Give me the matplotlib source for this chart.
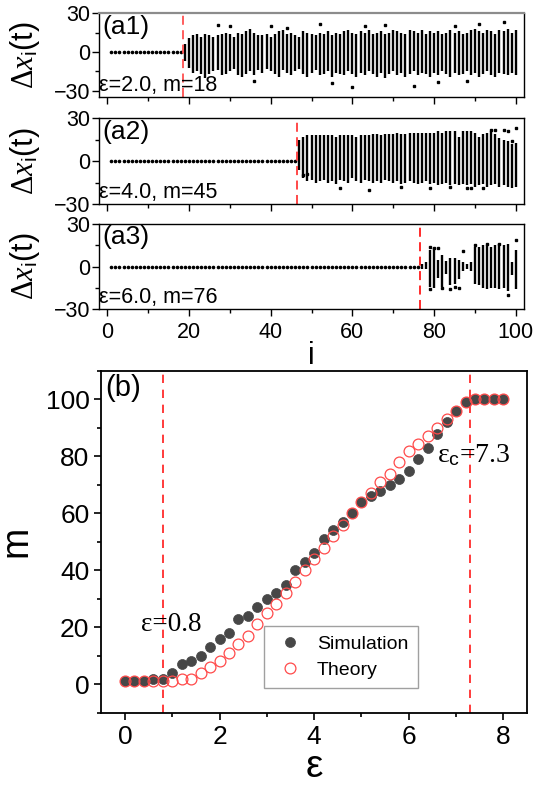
import numpy as np
import matplotlib
matplotlib.use("Agg")
import matplotlib.pyplot as plt
from matplotlib.ticker import MultipleLocator

plt.rcParams['font.family'] = ['Liberation Sans', 'DejaVu Sans']
plt.rcParams['mathtext.fontset'] = 'custom'
plt.rcParams['mathtext.rm'] = 'Liberation Serif'
plt.rcParams['mathtext.it'] = 'Liberation Serif:italic'
plt.rcParams['mathtext.sf'] = 'Liberation Sans'

# ---------------- data: panels (a1)-(a3) ----------------
eps_labels = ["ε=2.0, m=18", "ε=4.0, m=45", "ε=6.0, m=76"]
panel_tags = ["(a1)", "(a2)", "(a3)"]
sync_end = [18, 46, 76]            # last synchronized node drawn on the zero line
border_line = [18.5, 46.5, 76.5]   # red dashed boundary

a1_hi = [6, 11, 13, 14, 12, 14, 13, 12, 13, 14,
         15, 14, 12, 15, 14, 16, 18, 15, 13, 13,
         14, 12, 14, 16, 17, 14, 15, 13, 12, 16,
         15, 14, 13, 15, 14, 16, 13, 15, 14, 16,
         17, 15, 14, 16, 15, 17, 14, 15, 16, 14,
         15, 17, 16, 15, 14, 17, 16, 15, 17, 14,
         16, 15, 16, 14, 15, 17, 15, 16, 14, 15,
         17, 18, 16, 15, 17, 16, 14, 17, 16, 18,
         15, 17]
a1_lo = [-7, -12, -16, -15, -17, -20, -17, -15, -14, -18,
         -17, -15, -13, -18, -19, -17, -15, -18, -14, -16,
         -13, -15, -17, -19, -14, -16, -18, -15, -13, -17,
         -19, -16, -14, -18, -17, -15, -19, -16, -17, -18,
         -15, -17, -19, -16, -18, -15, -17, -19, -16, -20,
         -17, -15, -18, -16, -19, -17, -15, -18, -16, -17,
         -19, -16, -18, -15, -17, -19, -16, -18, -17, -15,
         -18, -16, -19, -17, -15, -18, -19, -16, -17, -18,
         -16, -18]
a1_out_i = [27, 30, 44, 52, 60, 68, 75, 85, 91, 97, 55, 81, 63, 88, 36, 40]
a1_out_v = [21, 20, 19, 22, -27, 21, -26, 20, 22, 23, -24, -23, 20, -22, -22, 20]

a2_hi = [15, 17, 18, 18, 18, 18, 18, 18, 18, 17,
         18, 18, 18, 18, 17, 18, 18, 18, 19, 19,
         18, 19, 19, 19, 20, 19, 19, 20, 20, 20,
         20, 20, 20, 20, 21, 20, 21, 21, 21, 17,
         21, 21, 21, 20, 17, 19, 20, 21, 19, 16,
         15, 14, 12, 13]
a2_lo = [-6, -12, -14, -13, -15, -14, -13, -15, -14, -16,
         -13, -14, -15, -12, -14, -15, -13, -14, -15, -14,
         -15, -13, -14, -15, -14, -16, -15, -14, -15, -16,
         -15, -14, -16, -15, -17, -16, -15, -17, -16, -17,
         -16, -17, -16, -18, -17, -16, -18, -17, -16, -18,
         -17, -18, -19, -18]
a2_out_i = [48, 49, 64, 72, 79, 84, 89, 92, 94, 97, 98, 100, 57, 88, 95, 99]
a2_out_v = [-10, -9, -20, -18, -19, -18, -19, -19, 22, 22, 21, 23, -19, -19, 22, 14]

a3_hi = [2, 3, 12, 13, 5, 8, 4, 6, 6, 5, 3, 2, 3, 14, 14, 15, 15, 14, 15, 16, 15, 16, 3, 12]
a3_lo = [-2, -2, -14, -15, -8, -14, -5, -13, -12, -9, -3, -2, -3, -12, -13, -15, -16, -15, -15, -16, -15, -17, -6, -16]
a3_out_i = [79, 80, 81, 82, 84, 85, 86, 87, 90, 93, 96, 98, 100, 79]
a3_out_v = [14, 13, 13, -15, -16, -14, -15, 11, 15, 16, 16, -20, 19, -16]

panel_hi = [a1_hi, a2_hi, a3_hi]
panel_lo = [a1_lo, a2_lo, a3_lo]
panel_out_i = [a1_out_i, a2_out_i, a3_out_i]
panel_out_v = [a1_out_v, a2_out_v, a3_out_v]
panel_ylim = [(-35, 30), (-30, 30), (-30, 30)]

# ---------------- data: panel (b) ----------------
eps = [0.0, 0.2, 0.4, 0.6, 0.8, 1.0, 1.2, 1.4, 1.6, 1.8,
       2.0, 2.2, 2.4, 2.6, 2.8, 3.0, 3.2, 3.4, 3.6, 3.8,
       4.0, 4.2, 4.4, 4.6, 4.8, 5.0, 5.2, 5.4, 5.6, 5.8,
       6.0, 6.2, 6.4, 6.6, 6.8, 7.0, 7.2, 7.4, 7.6, 7.8, 8.0]
m_sim = [1, 1, 1, 2, 2, 4, 7, 8, 10, 13,
         16, 18, 23, 24, 27, 30, 32, 35, 40, 43,
         46, 51, 54, 57, 60, 64, 66, 68, 70, 72,
         75, 79, 83, 88, 92, 96, 99, 100, 100, 100, 100]
m_theory = [1, 1, 1, 1, 1, 1, 2, 2, 4, 6,
            8, 11, 14, 17, 21, 25, 28, 32, 36, 40,
            44, 48, 52, 56, 60, 64, 67, 71, 74, 78,
            82, 84.5, 87, 90, 93, 96, 99, 100, 100, 100, 100]
eps_thresholds = [0.8, 7.3]

# ---------------- figure ----------------
W, H = 559, 794
fig = plt.figure(figsize=(W / 100, H / 100), dpi=100)

def frac(l, t, r, b):
    return [l / W, 1 - b / H, (r - l) / W, (b - t) / H]

top_boxes = [(99, 13.3, 524, 97.3), (99, 118.3, 524, 204), (99, 224, 524, 309.3)]
red_top = ['#ff5050', '#ff3a3a', '#ff1a1a']

for k in range(3):
    ax = fig.add_axes(frac(*top_boxes[k]))
    hi = panel_hi[k]
    lo = panel_lo[k]
    idx = list(range(sync_end[k] + 1, sync_end[k] + 1 + len(hi)))
    sync_idx = list(range(1, sync_end[k] + 1))
    ax.plot(sync_idx, [0] * len(sync_idx), ls='none', marker='o', ms=1.6, color='black')
    ax.vlines(idx, lo, hi, color='black', lw=1.7)
    ax.plot(panel_out_i[k], panel_out_v[k], ls='none', marker='s', ms=1.8, color='black')
    ax.axvline(border_line[k], color=red_top[k], ls=(0, (5, 3)), lw=1.3)
    ax.set_xlim(-2, 102)
    ax.set_ylim(*panel_ylim[k])
    ax.set_yticks([-30, 0, 30])
    ax.yaxis.set_minor_locator(MultipleLocator(15))
    ax.xaxis.set_major_locator(MultipleLocator(20))
    ax.xaxis.set_minor_locator(MultipleLocator(10))
    ax.tick_params(which='both', direction='out', top=False, right=False, labelsize=15.5, width=1.0)
    ax.tick_params(which='major', length=5)
    ax.tick_params(which='minor', length=3)
    ax.tick_params(axis='x', pad=4)
    ax.tick_params(axis='y', pad=1)
    if k < 2:
        ax.set_xticklabels([])
    for s in ax.spines.values():
        s.set_linewidth(1.0)
    if k == 0:
        ax.spines['top'].set_color('#8c8c8c')
        ax.spines['top'].set_linewidth(1.6)
    ax.text(0.008, 0.985, panel_tags[k], transform=ax.transAxes, ha='left', va='top', fontsize=19)
    ax.text(0.0, 0.01, eps_labels[k], transform=ax.transAxes, ha='left', va='bottom', fontsize=15.5)
    ax.set_ylabel(r'$\Delta \mathit{x}_{\mathsf{i}}$(t)', fontsize=22, labelpad=0)
    ax.yaxis.set_label_coords(-0.135, 0.5)
    if k == 2:
        ax.set_xlabel('i', fontsize=22, labelpad=-1)

# ---------------- panel (b) ----------------
axb = fig.add_axes(frac(101.3, 371, 527, 712.7))
axb.plot(eps, m_sim, ls='none', marker='o', ms=7.2, mfc='#474747', mec='#474747',
         mew=0.5, label='Simulation', zorder=3)
axb.plot(eps, m_theory, ls='none', marker='o', ms=7.8, mfc='none', mec='#ff4a4a',
         mew=0.9, label='Theory', zorder=4)
for e in eps_thresholds:
    axb.axvline(e, color='#ff1a1a', ls=(0, (5, 4)), lw=1.2, zorder=2)
axb.set_xlim(-0.5, 8.5)
axb.set_ylim(-10, 110)
axb.xaxis.set_major_locator(MultipleLocator(2))
axb.xaxis.set_minor_locator(MultipleLocator(1))
axb.yaxis.set_major_locator(MultipleLocator(20))
axb.yaxis.set_minor_locator(MultipleLocator(10))
axb.tick_params(which='both', direction='out', top=False, right=False, labelsize=19, width=1.2)
axb.tick_params(which='major', length=5)
axb.tick_params(which='minor', length=3)
for s in axb.spines.values():
    s.set_linewidth(1.3)
axb.text(0.01, 0.99, '(b)', transform=axb.transAxes, ha='left', va='top', fontsize=21)
axb.text(0.33, 21, 'ε=0.8', ha='left', va='center', fontsize=19.5,
         family='Liberation Serif')
axb.text(6.6, 80.5, r'ε$_{\mathsf{c}}$=7.3', ha='left', va='center', fontsize=20,
         family='Liberation Serif')
axb.set_ylabel('m', fontsize=27, labelpad=8)
axb.set_xlabel('ε', fontsize=28, labelpad=0)
leg = axb.legend(loc='lower left', bbox_to_anchor=(0.36, 0.043), fontsize=14,
                 frameon=True, fancybox=False, edgecolor='#a0a0a0', framealpha=1,
                 handletextpad=0.6, borderpad=0.5, labelspacing=0.4, handlelength=1.6)
leg.get_frame().set_linewidth(1.0)

fig.savefig('out.png', dpi=100)
